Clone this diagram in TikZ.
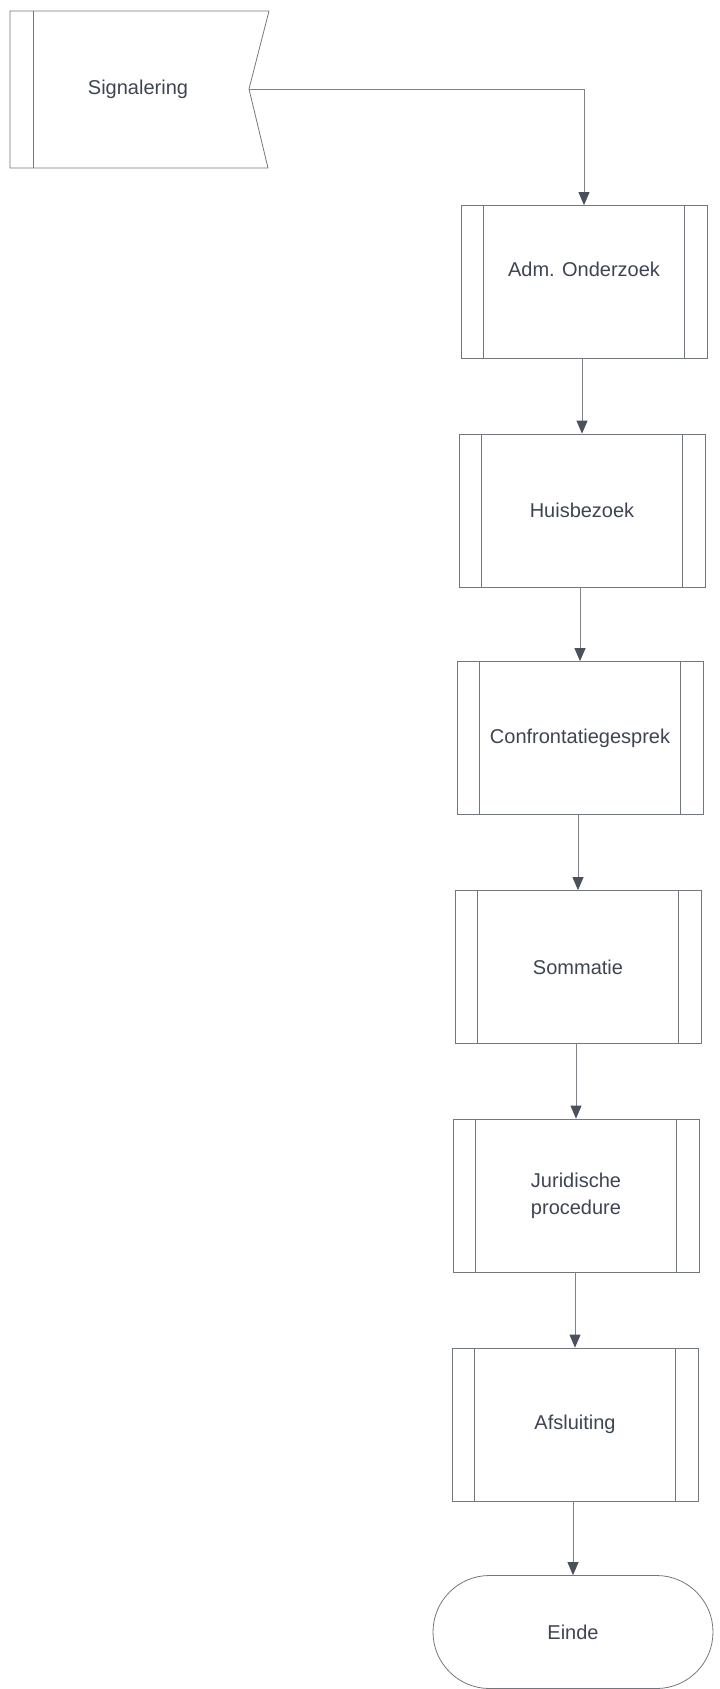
\documentclass[tikz,border=0pt]{standalone}
\usepackage{fontspec}
\setmainfont{Liberation Sans}
\usetikzlibrary{arrows.meta,shapes.misc}
\definecolor{linegray}{HTML}{808287}
\definecolor{boxgray}{HTML}{72767D}
\definecolor{tipgray}{HTML}{4A515C}
\definecolor{txtgray}{HTML}{3E4452}
\tikzset{
  procbox/.style={draw=boxgray, line width=0.8pt, minimum width=246pt, minimum height=153pt,
    inner sep=0pt, text=txtgray, font=\fontsize{20}{27}\selectfont, align=center,
    path picture={
      \draw[boxgray, line width=0.8pt]
        ([xshift=22pt]path picture bounding box.north west) -- ([xshift=22pt]path picture bounding box.south west)
        ([xshift=-23pt]path picture bounding box.north east) -- ([xshift=-23pt]path picture bounding box.south east);
    }},
  endbox/.style={draw=boxgray, line width=0.8pt, rounded rectangle, minimum width=280pt, minimum height=113pt,
    inner sep=0pt, text=txtgray, font=\fontsize{20}{27}\selectfont},
  conn/.style={draw=linegray, line width=0.8pt, -{Triangle[width=11pt,length=13pt,fill=tipgray,color=tipgray]}},
  lbl/.style={text=txtgray, font=\fontsize{20}{27}\selectfont, inner sep=0pt}
}
\begin{document}
\begin{tikzpicture}[x=1pt,y=-1pt]
\useasboundingbox (0,0) rectangle (720,1689);
% Signalering shape
\draw[boxgray, line width=0.8pt] (10,11) -- (269,11) -- (249,89) -- (268,168) -- (10,168) -- cycle;
\draw[boxgray, line width=0.8pt] (33,11) -- (33,168);
\node[lbl] (sig) at (138,89) {Signalering};
\coordinate (notch) at (249,89);

\node[procbox, text depth=26pt] (adm) at (584,282) {Adm. Onderzoek};
\node[procbox] (huis) at (582,510.5) {Huisbezoek};
\node[procbox] (conf) at (580,738) {Confrontatiegesprek};
\node[procbox] (somm) at (578,967) {Sommatie};
\node[procbox] (jur) at (576,1195.5) {Juridische\\procedure};
\node[procbox] (afs) at (575,1424.5) {Afsluiting};
\node[endbox] (einde) at (573,1632) {Einde};

\draw[conn] (notch) -| (adm.north);
\draw[conn] (huis.north |- adm.south) -- (huis.north);
\draw[conn] (conf.north |- huis.south) -- (conf.north);
\draw[conn] (somm.north |- conf.south) -- (somm.north);
\draw[conn] (jur.north |- somm.south) -- (jur.north);
\draw[conn] (afs.north |- jur.south) -- (afs.north);
\draw[conn] (einde.north |- afs.south) -- (einde.north);
\end{tikzpicture}
\end{document}
